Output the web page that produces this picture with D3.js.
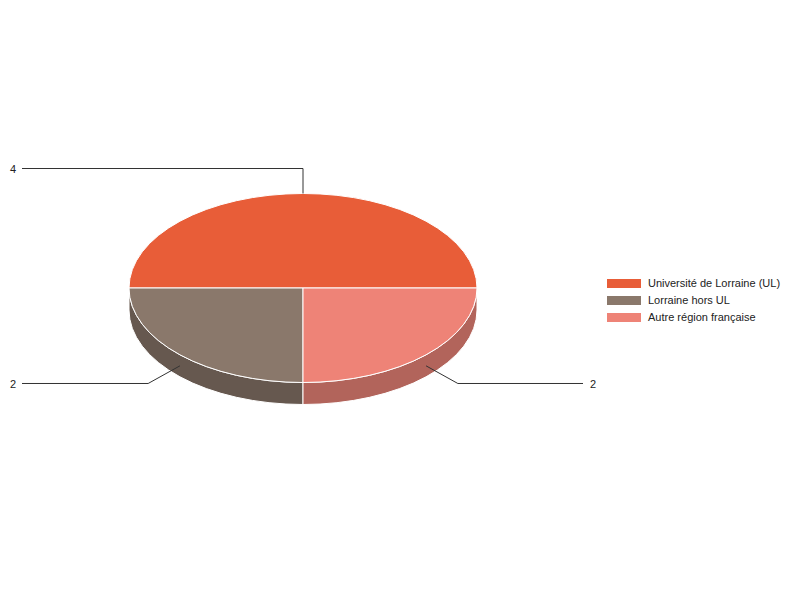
<!DOCTYPE html>
<html>
<head>
<meta charset="utf-8">
<script src="https://cdn.jsdelivr.net/npm/d3@7"></script>
<style>
  body { margin: 0; background: #fff; }
  text { font-family: "Liberation Sans", Arial, sans-serif; font-size: 11px; fill: #222; }
</style>
</head>
<body>
<div id="chart"></div>
<script>
var categories = ["Université de Lorraine (UL)", "Lorraine hors UL", "Autre région française"];
var values = [4, 2, 2];
var topColors = ["#e85d38", "#8a786b", "#ee8377"];
var sideColors = ["#a8432a", "#66584f", "#b2645b"];

var svgWidth = 800;
var svgHeight = 600;

var cx = 303, cy = 288;
var rx = 174, ry = 94.5, depth = 22;

var svg = d3.select("#chart")
  .append("svg")
  .attr("width", svgWidth)
  .attr("height", svgHeight);

var data = categories.map((c, i) => ({ name: c, value: values[i], i: i }));

// slices go counter-clockwise starting at 3 o'clock
var pie = d3.pie()
  .sort(null)
  .value(d => d.value)
  .startAngle(Math.PI / 2)
  .endAngle(Math.PI / 2 - 2 * Math.PI);

var arcs = pie(data).map(function(a) {
  var lo = Math.min(a.startAngle, a.endAngle);
  var hi = Math.max(a.startAngle, a.endAngle);
  var tau = 2 * Math.PI;
  var nlo = ((lo % tau) + tau) % tau;
  return { data: a.data, lo: nlo, hi: nlo + (hi - lo) };
});

function pt(a, dy) {
  return [cx + rx * Math.sin(a), cy - ry * Math.cos(a) + (dy || 0)];
}

function topPath(d) {
  var p0 = pt(d.lo), p1 = pt(d.hi);
  var large = (d.hi - d.lo) > Math.PI ? 1 : 0;
  return `M${cx},${cy}L${p0}A${rx},${ry} 0 ${large} 1 ${p1}Z`;
}

function sidePath(d) {
  // only the front half (between 3 and 9 o'clock) shows its wall
  var s = Math.max(d.lo, Math.PI / 2), e = Math.min(d.hi, 3 * Math.PI / 2);
  if (e - s <= 1e-6) return null;
  var a = pt(s), b = pt(e), b2 = pt(e, depth), a2 = pt(s, depth);
  return `M${a}A${rx},${ry} 0 0 1 ${b}L${b2}A${rx},${ry} 0 0 0 ${a2}Z`;
}

var sideGroup = svg.append("g");
sideGroup.selectAll("path")
  .data(arcs.filter(d => sidePath(d)))
  .enter()
  .append("path")
  .attr("d", sidePath)
  .attr("fill", d => sideColors[d.data.i])
  .attr("stroke", "#fff")
  .attr("stroke-width", 1);

var topGroup = svg.append("g");
topGroup.selectAll("path")
  .data(arcs)
  .enter()
  .append("path")
  .attr("d", topPath)
  .attr("fill", d => topColors[d.data.i])
  .attr("stroke", "#fff")
  .attr("stroke-width", 1)
  .attr("stroke-linejoin", "round");

// leader lines and value labels
var labelGroup = svg.append("g");
arcs.forEach(function(d) {
  var m = (d.lo + d.hi) / 2;
  var front = Math.cos(m) < -1e-6;
  var off = front ? depth / 2 : 0;
  var anchor = pt(m, off);
  var elbow = [cx + (rx + 45) * Math.sin(m), cy - (ry + 25) * Math.cos(m) + off];
  var left = Math.sin(m) <= 1e-6;
  var endX = left ? 22 : 583;

  labelGroup.append("polyline")
    .attr("points", [anchor, elbow, [endX, elbow[1]]].map(p => p.join(",")).join(" "))
    .attr("fill", "none")
    .attr("stroke", "#333")
    .attr("stroke-width", 1);

  labelGroup.append("text")
    .attr("x", left ? endX - 6 : endX + 7)
    .attr("y", elbow[1] + 0.5)
    .attr("dy", "0.35em")
    .attr("text-anchor", left ? "end" : "start")
    .text(d.data.value);
});

// legend
var legend = svg.append("g")
  .attr("transform", "translate(607, 279)");

var rows = legend.selectAll("g")
  .data(data)
  .enter()
  .append("g")
  .attr("transform", (d, i) => `translate(0, ${i * 17})`);

rows.append("rect")
  .attr("width", 34)
  .attr("height", 9)
  .attr("fill", d => topColors[d.i]);

rows.append("text")
  .attr("x", 41)
  .attr("y", 4.5)
  .attr("dy", "0.35em")
  .text(d => d.name);
</script>
</body>
</html>
